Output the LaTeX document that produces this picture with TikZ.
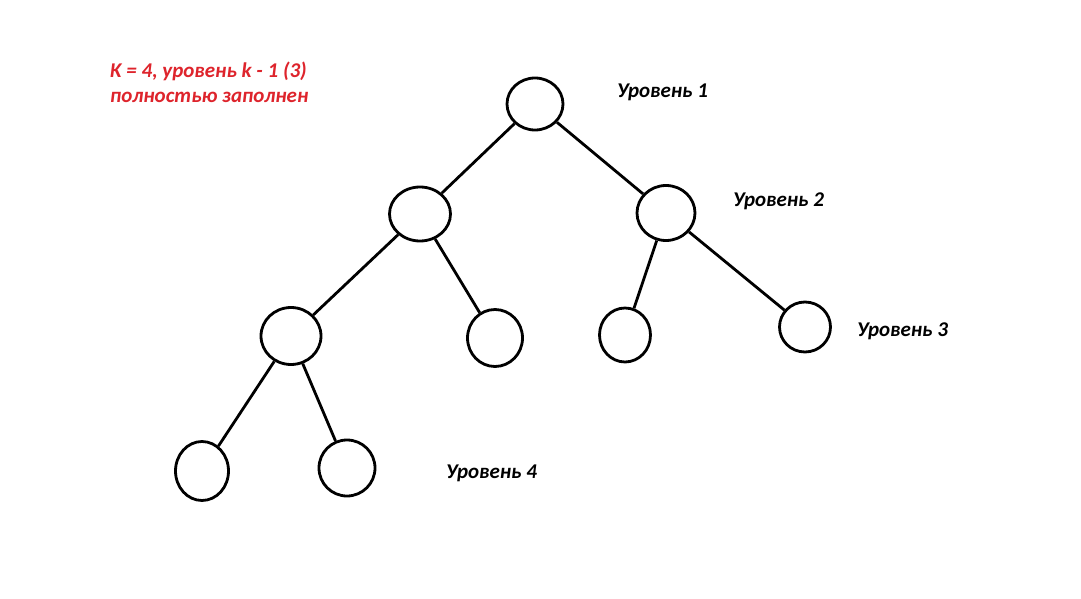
\documentclass[tikz,border=0pt]{standalone}
\usepackage{fontspec}
\setmainfont{Carlito}
\usetikzlibrary{shapes.geometric}
\definecolor{redtxt}{RGB}{222,36,44}
\tikzset{
  tnode/.style={draw=black, line width=2.8pt, ellipse, inner sep=0pt},
  edge/.style={draw=black, line width=2.8pt},
  lvl/.style={font=\fontsize{21}{24}\selectfont\bfseries\itshape, inner sep=0pt, anchor=base west},
  note/.style={font=\fontsize{21}{26}\selectfont\bfseries\itshape, text=redtxt, inner sep=0pt, anchor=base west}
}
\begin{document}
\begin{tikzpicture}[x=1pt,y=1pt]
\useasboundingbox[fill=white] (0,0) rectangle (1081,598);
% nodes (y = 598 - py)
\node[tnode, minimum width=56pt, minimum height=52pt] (r) at (535,494) {};
\node[tnode, minimum width=61pt, minimum height=54pt] (l) at (420,384) {};
\node[tnode, minimum width=58pt, minimum height=55pt] (rr) at (666,385) {};
\node[tnode, minimum width=60pt, minimum height=57pt] (a) at (291,262) {};
\node[tnode, minimum width=55pt, minimum height=57pt] (b) at (495,260) {};
\node[tnode, minimum width=51pt, minimum height=54pt] (c) at (625,263) {};
\node[tnode, minimum width=51pt, minimum height=50pt] (d) at (805,271) {};
\node[tnode, minimum width=53pt, minimum height=59pt] (e) at (202,127) {};
\node[tnode, minimum width=56pt, minimum height=56pt] (f) at (347,130) {};
% edges
\draw[edge] (r) -- (l);
\draw[edge] (r) -- (rr);
\draw[edge] (l) -- (a);
\draw[edge] (l) -- (b);
\draw[edge] (rr) -- (c);
\draw[edge] (rr) -- (d);
\draw[edge] (a) -- (e);
\draw[edge] (a) -- (f);
% labels
\node[lvl] (t1) at (617,500) {Уровень 1};
\node[lvl] (t2) at (733,391) {Уровень 2};
\node[lvl] (t3) at (857,262) {Уровень 3};
\node[lvl] (t4) at (446,120) {Уровень 4};
\node[note] (n1) at (110,520) {K = 4, уровень k - 1 (3)};
\node[note] (n2) at (110,495) {полностью заполнен};
\end{tikzpicture}
\end{document}
